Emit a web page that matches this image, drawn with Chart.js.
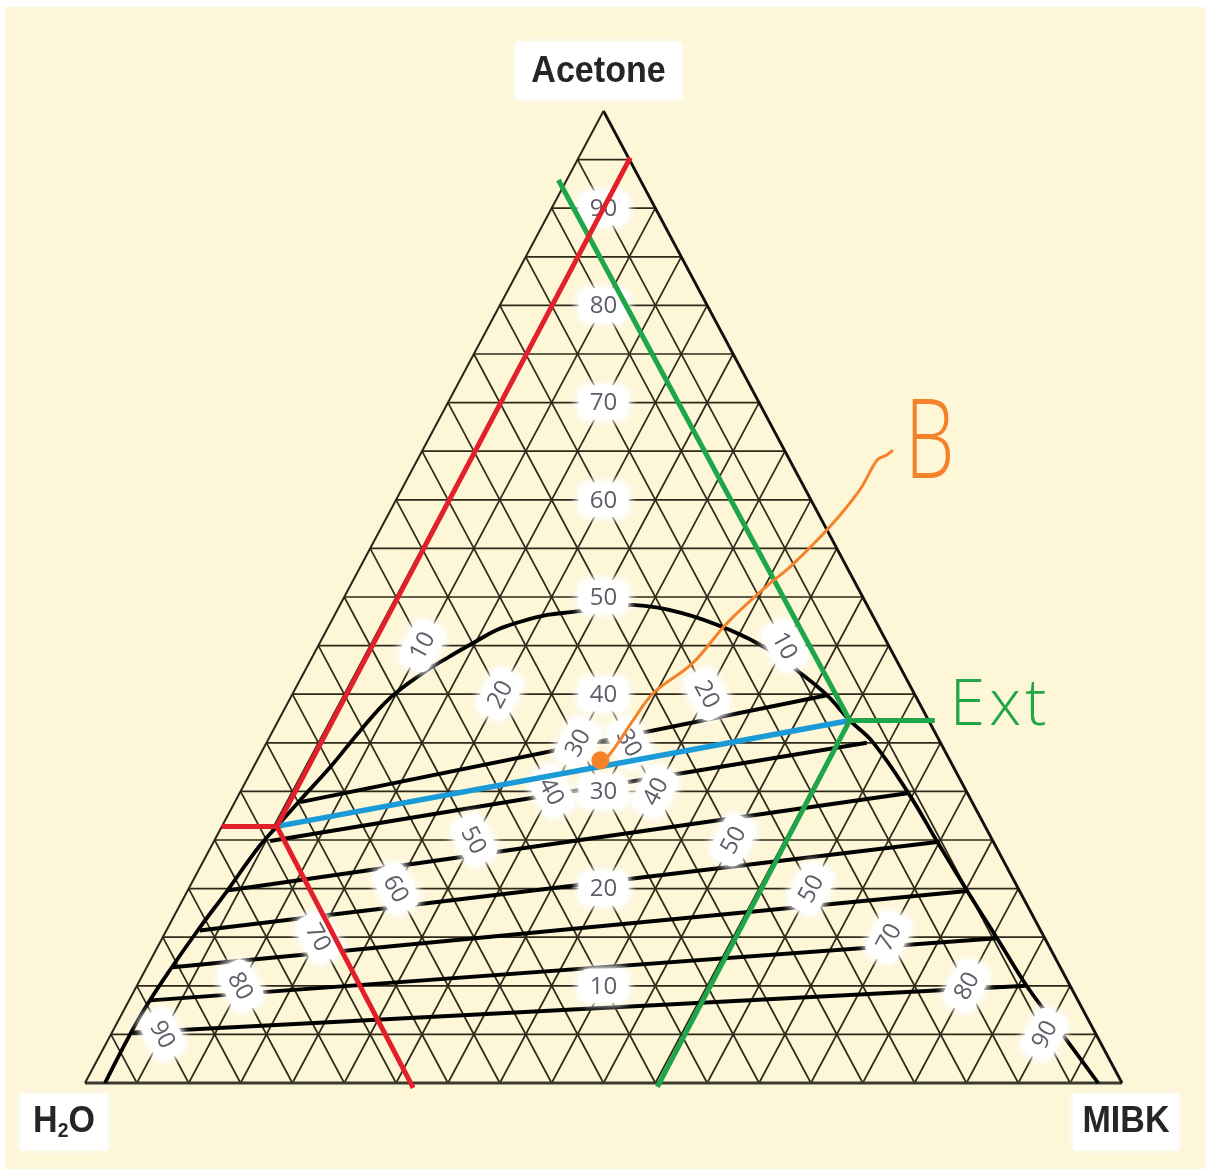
<!DOCTYPE html>
<html>
<head>
<meta charset="utf-8">
<script src="https://cdn.jsdelivr.net/npm/chart.js@4.4.1/dist/chart.umd.min.js"></script>
<style>
  html, body { margin: 0; padding: 0; background: #fff; overflow: hidden; }
  canvas { display: block; }
</style>
</head>
<body>
<canvas id="chart" width="1207" height="1171"></canvas>
<script>
// grid every 5 wt%
const gridTicks = [5, 10, 15, 20, 25, 30, 35, 40, 45, 50, 55, 60, 65, 70, 75, 80, 85, 90, 95];

// binodal curve (wt% acetone, wt% MIBK), from water corner round to MIBK corner
const binodalAcetone = [0, 4.42, 8.02, 11.63, 15.74, 19.75, 24.18, 26.4, 29.1, 32.5, 36.2, 39.6, 42.18, 43.72, 45.27, 46.6, 47.43, 48.15, 48.46, 48.87, 49.18, 48.4, 46.6, 44.5, 42.2, 39.9, 37.3, 35.1, 30.0, 24.8, 19.75, 14.9, 10.0, 6.8, 3.2, 0];
const binodalMibk = [1.93, 1.84, 1.97, 2.38, 3.03, 3.82, 4.59, 5.3, 6.2, 7.4, 8.4, 9.6, 11.5, 13.05, 14.8, 16.4, 18.2, 20.5, 22.8, 25.5, 28.25, 33.2, 38.9, 43.8, 47.85, 51.6, 55.1, 58.4, 64.3, 69.8, 75.2, 80.5, 85.8, 89.6, 93.9, 97.7];

// tie lines: raffinate end / extract end
const tieLeftAcetone = [28.9, 24.9, 19.8, 15.7, 11.9, 8.5, 5.2];
const tieLeftMibk = [6.3, 5.4, 3.8, 3.2, 2.5, 2.1, 2.0];
const tieRightAcetone = [39.9, 35.0, 29.8, 24.8, 19.75, 14.9, 10.0];
const tieRightMibk = [51.6, 57.9, 64.4, 69.8, 75.2, 80.5, 85.8];

// scale labels on the diagram
const acetoneLabelValues = [10, 20, 30, 40, 50, 60, 70, 80, 90];
const mibkLabelValues = [10, 20, 30, 40, 50, 60, 70, 80, 90];
const mibkLabelText = ['10', '20', '30', '40', '50', '50', '70', '80', '90'];
const waterLabelValues = [10, 20, 30, 40, 50, 60, 70, 80, 90];

// hand-drawn construction (acetone, MIBK)
const raffinate = [26.4, 5.3];
const extract = [37.3, 55.1];
const redEnds = [[95.2, 4.98], [26.4, 0], [-0.5, 31.9]];
const greenEnds = [[92.9, -0.8], [37.3, 63.3], [-0.4, 55.4]];
const pointB = [33.2, 33.1];
const arrowAcetone = [33.2, 33.5, 35.3, 37.35, 40.1, 43.2, 47.3, 51.4, 53.1, 57.2, 61.0, 64.1, 64.6, 65.1];
const arrowMibk = [33.1, 33.6, 33.95, 34.2, 34.75, 37.0, 38.25, 40.35, 41.45, 43.2, 44.2, 44.35, 45.0, 45.35];

// acetone/MIBK -> plot coords
const tern = (a, m) => ({ x: m + a / 2, y: a });

const line = (points, color, width, order, extra) => Object.assign({
    data: points,
    showLine: true,
    borderColor: color,
    backgroundColor: color,
    borderWidth: width,
    pointRadius: 0,
    fill: false,
    tension: 0,
    order: order,
    clip: false
}, extra || {});

const datasets = [];

// grid
const gridColor = '#2e2a1a';
gridTicks.forEach(v => {
    datasets.push(line([tern(v, 0), tern(v, 100 - v)], gridColor, 1.7, 40));
    datasets.push(line([tern(0, v), tern(100 - v, v)], gridColor, 1.7, 40));
    datasets.push(line([tern(0, 100 - v), tern(100 - v, 0)], gridColor, 1.7, 40));
});
datasets.push(line([tern(0, 0), tern(100, 0)], '#2a2618', 2, 35));
datasets.push(line([tern(0, 100), tern(100, 0)], '#111', 2.8, 35));
datasets.push(line([tern(0, 0), tern(0, 100)], '#3a3a30', 2.8, 35));

// binodal
datasets.push(line(binodalAcetone.map((a, i) => tern(a, binodalMibk[i])), '#000', 3.8, 20,
    { tension: 0.4 }));

// tie lines
tieLeftAcetone.forEach((a, i) => {
    datasets.push(line([tern(a, tieLeftMibk[i]), tern(tieRightAcetone[i], tieRightMibk[i])], '#000', 4, 20));
});

// blue tie line through the mixture point (labels are drawn just before it)
datasets.push(line([tern(raffinate[0], raffinate[1]), tern(extract[0], extract[1])], '#1b9ad8', 5.5, 10,
    { labelsBelow: true }));

redEnds.forEach(e => datasets.push(line([tern(raffinate[0], raffinate[1]), tern(e[0], e[1])], '#e3202a', 5, 5)));
greenEnds.forEach(e => datasets.push(line([tern(extract[0], extract[1]), tern(e[0], e[1])], '#1fa64a', 5, 5)));

datasets.push(line(arrowAcetone.map((a, i) => tern(a, arrowMibk[i])), '#f5822a', 3, 2, { tension: 0.35 }));
datasets.push(line([tern(pointB[0], pointB[1])], '#f5822a', 0, 1, { showLine: false, pointRadius: 9, pointStyle: 'circle' }));

function numberTag(c, x, y, text, angle) {
    c.save();
    c.translate(x, y);
    c.rotate(angle);
    c.font = '24px "Open Sans", "DejaVu Sans", sans-serif';
    const w = c.measureText(text).width + 22;
    const h = 34;
    c.shadowColor = '#ffffff';
    c.shadowBlur = 10;
    c.fillStyle = '#ffffff';
    c.beginPath();
    c.roundRect(-w / 2, -h / 2, w, h, 10);
    c.fill();
    c.fill();
    c.shadowBlur = 0;
    c.fillStyle = '#5d5e68';
    c.textAlign = 'center';
    c.textBaseline = 'middle';
    c.fillText(text, 0, 1);
    c.restore();
}

function whiteBox(c, cx, cy, w, h) {
    c.save();
    c.shadowColor = '#ffffff';
    c.shadowBlur = 8;
    c.fillStyle = '#ffffff';
    c.fillRect(cx - w / 2, cy - h / 2, w, h);
    c.restore();
}

const ternaryText = {
    id: 'ternaryText',
    beforeDraw(chart) {
        const c = chart.ctx;
        c.save();
        c.fillStyle = '#ffffff';
        c.fillRect(0, 0, chart.width, chart.height);
        c.fillStyle = '#fdf6d7';
        c.fillRect(5, 7, chart.width - 7, chart.height - 9);
        c.restore();
    },
    beforeDatasetDraw(chart, args) {
        if (!chart.data.datasets[args.index].labelsBelow) return;
        const c = chart.ctx;
        const sx = chart.scales.x, sy = chart.scales.y;
        const px = (a, m) => ({ x: sx.getPixelForValue(m + a / 2), y: sy.getPixelForValue(a) });

        const m0 = px(0, 50), m1 = px(50, 50);
        const mibkAngle = Math.atan2(m1.y - m0.y, m1.x - m0.x);
        const w0 = px(50, 0), w1 = px(0, 50);
        const waterAngle = Math.atan2(w1.y - w0.y, w1.x - w0.x);

        acetoneLabelValues.forEach(v => {
            const p = px(v, 50 - v / 2);
            numberTag(c, p.x, p.y, String(v), 0);
        });
        mibkLabelValues.forEach((v, i) => {
            const p = px(50 - v / 2, v);
            numberTag(c, p.x, p.y, mibkLabelText[i], mibkAngle);
        });
        waterLabelValues.forEach(v => {
            const a = 50 - v / 2;
            const p = px(a, 100 - v - a);
            numberTag(c, p.x, p.y, String(v), waterAngle);
        });
    },
    afterDraw(chart) {
        const c = chart.ctx;
        const sx = chart.scales.x, sy = chart.scales.y;
        const px = (a, m) => ({ x: sx.getPixelForValue(m + a / 2), y: sy.getPixelForValue(a) });

        // corner names
        const top = px(100, 0), left = px(0, 0), right = px(0, 100);
        c.save();
        c.fillStyle = '#262626';
        c.textAlign = 'center';
        c.textBaseline = 'middle';
        const bold = 'bold 37px "Liberation Sans", Arial, sans-serif';
        const sub = 'bold 21px "Liberation Sans", Arial, sans-serif';

        whiteBox(c, top.x - 5, top.y - 40, 166, 58);
        c.save();
        c.translate(top.x - 5, top.y - 39);
        c.scale(0.92, 1);
        c.font = bold;
        c.fillText('Acetone', 0, 0);
        c.restore();

        whiteBox(c, left.x - 21, left.y + 39, 88, 56);
        c.save();
        c.translate(left.x - 21, left.y + 39);
        c.scale(0.92, 1);
        c.font = bold;
        c.textAlign = 'left';
        const hW = c.measureText('H').width;
        c.font = sub;
        const twoW = c.measureText('2').width;
        c.font = bold;
        const oW = c.measureText('O').width;
        const x0 = -(hW + twoW + oW) / 2;
        c.fillText('H', x0, 0);
        c.font = sub;
        c.fillText('2', x0 + hW, 9);
        c.font = bold;
        c.fillText('O', x0 + hW + twoW, 0);
        c.restore();

        whiteBox(c, right.x + 4, right.y + 39, 106, 56);
        c.save();
        c.translate(right.x + 4, right.y + 39);
        c.scale(0.92, 1);
        c.font = bold;
        c.fillText('MIBK', 0, 0);
        c.restore();
        c.restore();

        // hand-written notes
        const e = px(extract[0], extract[1]);
        c.save();
        c.fillStyle = '#22a748';
        c.font = '300 64px "Open Sans", "Liberation Sans", sans-serif';
        c.letterSpacing = '4px';
        c.textBaseline = 'alphabetic';
        c.fillText('Ext', e.x + 100, e.y + 5);
        c.restore();

        const last = arrowAcetone.length - 1;
        const b = px(arrowAcetone[last], arrowMibk[last]);
        c.save();
        c.fillStyle = '#f5822a';
        c.translate(b.x + 12, b.y + 28);
        c.scale(0.72, 1);
        c.font = '300 110px "Open Sans", "Liberation Sans", sans-serif';
        c.fillText('B', 0, 0);
        c.restore();
    }
};

new Chart(document.getElementById('chart'), {
    type: 'scatter',
    data: { datasets: datasets },
    options: {
        responsive: false,
        animation: false,
        devicePixelRatio: 1,
        layout: { padding: { left: 85, right: 85, top: 111, bottom: 88 } },
        scales: {
            x: { type: 'linear', min: 0, max: 100, display: false },
            y: { type: 'linear', min: 0, max: 100, display: false }
        },
        plugins: {
            legend: { display: false },
            tooltip: { enabled: false }
        }
    },
    plugins: [ternaryText]
});
</script>
</body>
</html>
